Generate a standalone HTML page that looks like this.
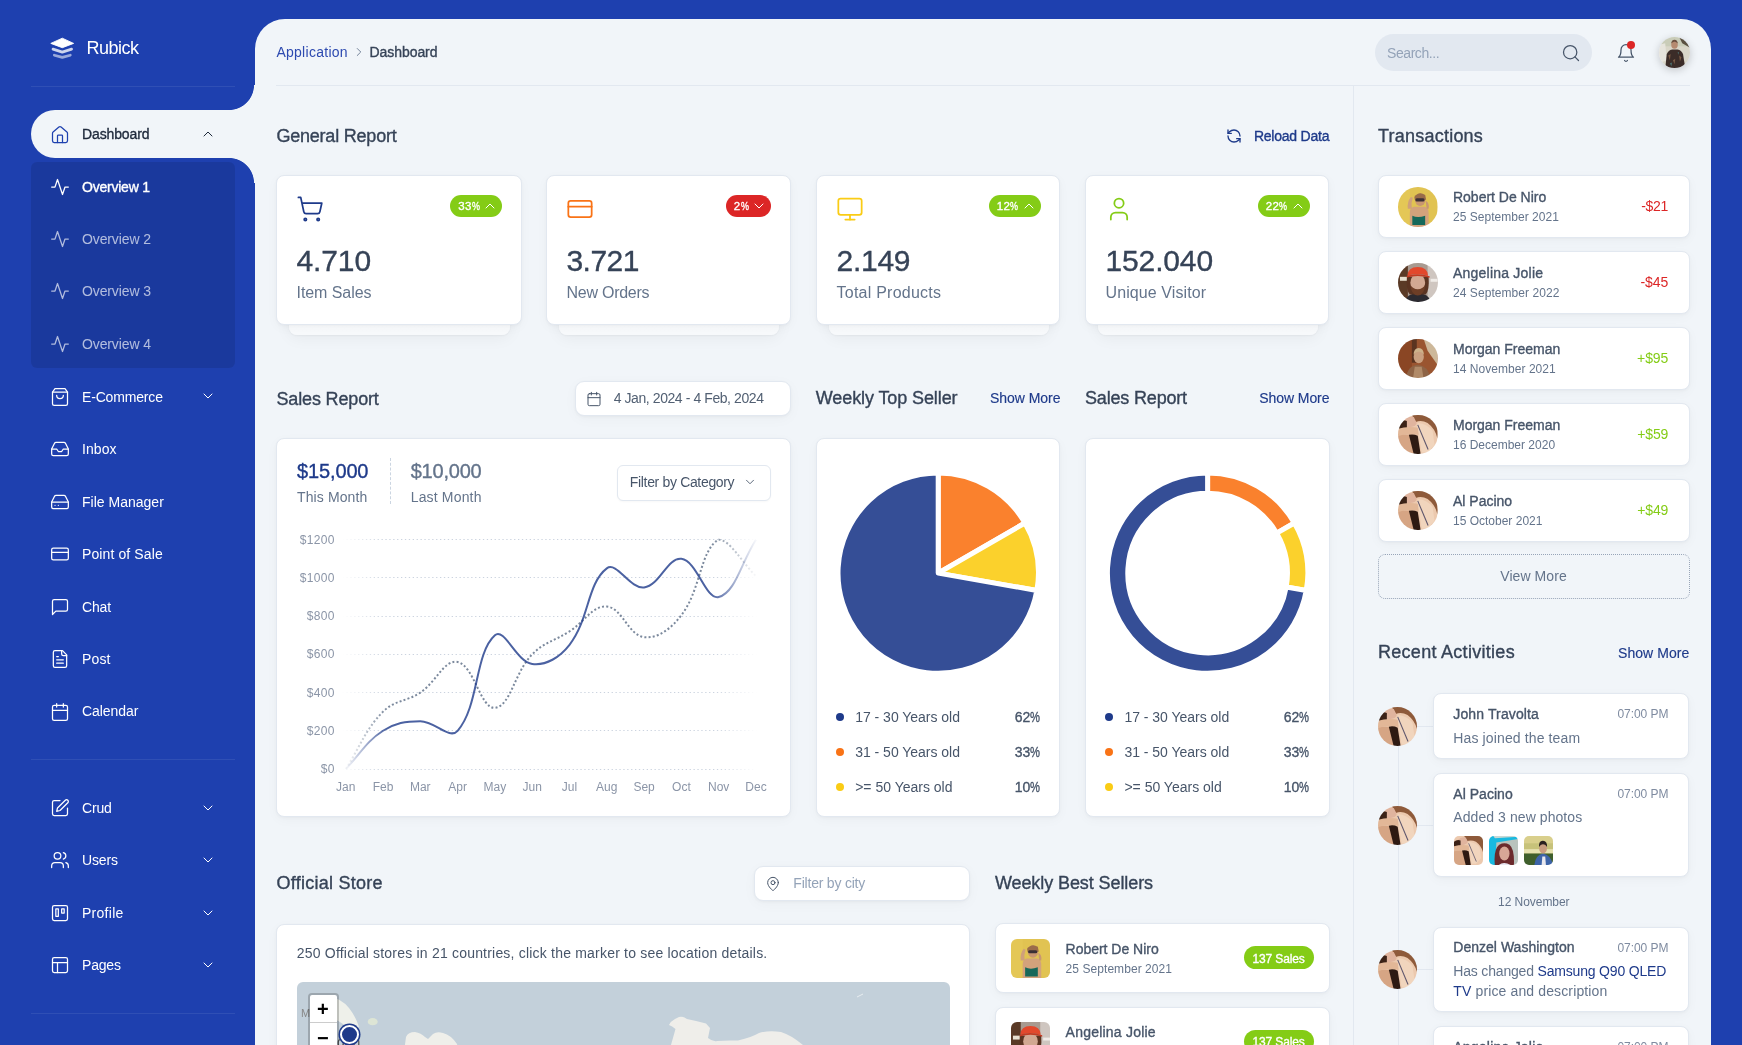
<!DOCTYPE html>
<html><head><meta charset="utf-8">
<style>
*{box-sizing:border-box;margin:0;padding:0}
html,body{width:1742px;height:1045px;overflow:hidden}
body{background:#1e40af;font-family:"Liberation Sans",sans-serif;position:relative;color:#364357}
.a{position:absolute}
.t{position:absolute;white-space:nowrap;line-height:1}
svg.i{position:absolute;fill:none;stroke:currentColor;stroke-linecap:round;stroke-linejoin:round;overflow:visible}
.m{-webkit-text-stroke:.35px currentColor}
.b{font-weight:bold}
.card{position:absolute;background:#fff;border:1px solid #e2e8f0;border-radius:8px;box-shadow:0 1px 3px rgba(15,23,42,.03),0 3px 12px rgba(15,23,42,.03)}
.av{position:absolute;border-radius:50%;overflow:hidden}
</style></head><body><div id="root" style="position:absolute;left:0;top:0;width:1742px;height:1045px;will-change:transform">

<svg class="a" style="left:50px;top:37px" width="25" height="23" viewBox="0 0 25 23">
<path d="M12.3 1.2 L23.6 6.4 L12.3 10.7 L0.8 6.4 Z" fill="#fff" stroke="#fff" stroke-width="0.9" stroke-linejoin="round"/>
<path d="M3 12.1 L12.3 15.1 L21.6 12.1" fill="none" stroke="rgba(255,255,255,.78)" stroke-width="2.7" stroke-linecap="round" stroke-linejoin="round"/>
<path d="M4.3 18.2 L12.3 20.4 L20.3 18.2" fill="none" stroke="rgba(255,255,255,.55)" stroke-width="2.7" stroke-linecap="round" stroke-linejoin="round"/>
</svg>
<div class="t" style="left:86.4px;top:39.4px;font-size:18px;color:#fff;;letter-spacing:-0.476px">Rubick</div>
<div class="a" style="left:255px;top:19px;width:1456px;height:1100px;background:#f1f5f9;border-radius:30px 30px 0 0"></div>
<div class="a" style="left:31px;top:110px;width:230px;height:48px;background:#f1f5f9;border-radius:24px 0 0 24px"></div>
<div class="a" style="left:229px;top:85px;width:26px;height:25px;background:radial-gradient(circle at 0 0,#1e40af 24.6px,#f1f5f9 25.4px)"></div>
<div class="a" style="left:229px;top:158px;width:26px;height:25px;background:radial-gradient(circle at 0 100%,#1e40af 24.6px,#f1f5f9 25.4px)"></div>
<div class="a" style="left:31px;top:86px;width:204px;height:1px;background:rgba(255,255,255,.08)"></div>
<svg class="i" style="left:50px;top:125px;color:#1e40af" width="20" height="20" viewBox="0 0 24 24" stroke-width="1.5"><path d="M15 21v-8a1 1 0 0 0-1-1h-4a1 1 0 0 0-1 1v8"/><path d="M3 10a2 2 0 0 1 .709-1.528l7-5.999a2 2 0 0 1 2.582 0l7 5.999A2 2 0 0 1 21 10v9a2 2 0 0 1-2 2H5a2 2 0 0 1-2-2z"/></svg>
<div class="t m" style="left:82.0px;top:126.7px;font-size:14px;color:#1e293b;;letter-spacing:-0.120px">Dashboard</div>
<svg class="i" style="left:200px;top:126px;color:#1e293b" width="16" height="16" viewBox="0 0 24 24" stroke-width="1.5"><path d="m18 15-6-6-6 6"/></svg>
<div class="a" style="left:31px;top:162px;width:204px;height:206px;background:rgba(0,0,0,.1);border-radius:6px"></div>
<svg class="i" style="left:50px;top:176.5px;color:#fff" width="20" height="20" viewBox="0 0 24 24" stroke-width="1.5"><polyline points="22 12 18 12 15 21 9 3 6 12 2 12"/></svg>
<div class="t m" style="left:82.0px;top:179.6px;font-size:14px;color:#fff;;letter-spacing:-0.222px">Overview 1</div>
<svg class="i" style="left:50px;top:228.9px;color:rgba(255,255,255,.66)" width="20" height="20" viewBox="0 0 24 24" stroke-width="1.5"><polyline points="22 12 18 12 15 21 9 3 6 12 2 12"/></svg>
<div class="t" style="left:82.0px;top:232.0px;font-size:14px;color:rgba(255,255,255,.66);;letter-spacing:-0.122px">Overview 2</div>
<svg class="i" style="left:50px;top:281.3px;color:rgba(255,255,255,.66)" width="20" height="20" viewBox="0 0 24 24" stroke-width="1.5"><polyline points="22 12 18 12 15 21 9 3 6 12 2 12"/></svg>
<div class="t" style="left:82.0px;top:284.4px;font-size:14px;color:rgba(255,255,255,.66);;letter-spacing:-0.122px">Overview 3</div>
<svg class="i" style="left:50px;top:333.7px;color:rgba(255,255,255,.66)" width="20" height="20" viewBox="0 0 24 24" stroke-width="1.5"><polyline points="22 12 18 12 15 21 9 3 6 12 2 12"/></svg>
<div class="t" style="left:82.0px;top:336.8px;font-size:14px;color:rgba(255,255,255,.66);;letter-spacing:-0.122px">Overview 4</div>
<svg class="i" style="left:50px;top:387.0px;color:#fff" width="20" height="20" viewBox="0 0 24 24" stroke-width="1.5"><path d="M6 2 3 6v14a2 2 0 0 0 2 2h14a2 2 0 0 0 2-2V6l-3-4Z"/><path d="M3 6h18"/><path d="M16 10a4 4 0 0 1-8 0"/></svg>
<div class="t" style="left:82.0px;top:389.5px;font-size:14px;color:#fff;;letter-spacing:-0.162px">E-Commerce</div>
<svg class="i" style="left:200px;top:388.4px;color:#fff" width="16" height="16" viewBox="0 0 24 24" stroke-width="1.5"><path d="m6 9 6 6 6-6"/></svg>
<svg class="i" style="left:50px;top:439.48px;color:#fff" width="20" height="20" viewBox="0 0 24 24" stroke-width="1.5"><polyline points="22 12 16 12 14 15 10 15 8 12 2 12"/><path d="M5.45 5.11 2 12v6a2 2 0 0 0 2 2h16a2 2 0 0 0 2-2v-6l-3.45-6.89A2 2 0 0 0 16.76 4H7.24a2 2 0 0 0-1.79 1.11z"/></svg>
<div class="t" style="left:82.0px;top:442.0px;font-size:14px;color:#fff;;letter-spacing:0.093px">Inbox</div>
<svg class="i" style="left:50px;top:491.96px;color:#fff" width="20" height="20" viewBox="0 0 24 24" stroke-width="1.5"><line x1="22" x2="2" y1="12" y2="12"/><path d="M5.45 5.11 2 12v6a2 2 0 0 0 2 2h16a2 2 0 0 0 2-2v-6l-3.45-6.89A2 2 0 0 0 16.76 4H7.24a2 2 0 0 0-1.79 1.11z"/><line x1="6" x2="6.01" y1="16" y2="16"/><line x1="10" x2="10.01" y1="16" y2="16"/></svg>
<div class="t" style="left:82.0px;top:494.5px;font-size:14px;color:#fff;;letter-spacing:0.010px">File Manager</div>
<svg class="i" style="left:50px;top:544.4399999999999px;color:#fff" width="20" height="20" viewBox="0 0 24 24" stroke-width="1.5"><rect width="20" height="14" x="2" y="5" rx="2"/><line x1="2" x2="22" y1="10" y2="10"/></svg>
<div class="t" style="left:82.0px;top:547.0px;font-size:14px;color:#fff;;letter-spacing:0.110px">Point of Sale</div>
<svg class="i" style="left:50px;top:596.92px;color:#fff" width="20" height="20" viewBox="0 0 24 24" stroke-width="1.5"><path d="M21 15a2 2 0 0 1-2 2H7l-4 4V5a2 2 0 0 1 2-2h14a2 2 0 0 1 2 2z"/></svg>
<div class="t" style="left:82.0px;top:599.5px;font-size:14px;color:#fff;;letter-spacing:-0.147px">Chat</div>
<svg class="i" style="left:50px;top:649.4px;color:#fff" width="20" height="20" viewBox="0 0 24 24" stroke-width="1.5"><path d="M15 2H6a2 2 0 0 0-2 2v16a2 2 0 0 0 2 2h12a2 2 0 0 0 2-2V7Z"/><path d="M14 2v4a2 2 0 0 0 2 2h4"/><path d="M10 9H8"/><path d="M16 13H8"/><path d="M16 17H8"/></svg>
<div class="t" style="left:82.0px;top:651.9px;font-size:14px;color:#fff;;letter-spacing:0.133px">Post</div>
<svg class="i" style="left:50px;top:701.88px;color:#fff" width="20" height="20" viewBox="0 0 24 24" stroke-width="1.5"><rect width="18" height="18" x="3" y="4" rx="2" ry="2"/><line x1="16" x2="16" y1="2" y2="6"/><line x1="8" x2="8" y1="2" y2="6"/><line x1="3" x2="21" y1="10" y2="10"/></svg>
<div class="t" style="left:82.0px;top:704.4px;font-size:14px;color:#fff;;letter-spacing:-0.063px">Calendar</div>
<div class="a" style="left:31px;top:759px;width:204px;height:1px;background:rgba(255,255,255,.08)"></div>
<svg class="i" style="left:50px;top:797.8px;color:#fff" width="20" height="20" viewBox="0 0 24 24" stroke-width="1.5"><path d="M12 3H5a2 2 0 0 0-2 2v14a2 2 0 0 0 2 2h14a2 2 0 0 0 2-2v-7"/><path d="M18.375 2.625a2.121 2.121 0 1 1 3 3L12 15l-4 1 1-4Z"/></svg>
<div class="t" style="left:82.0px;top:800.9px;font-size:14px;color:#fff;;letter-spacing:-0.193px">Crud</div>
<svg class="i" style="left:200px;top:799.8px;color:#fff" width="16" height="16" viewBox="0 0 24 24" stroke-width="1.5"><path d="m6 9 6 6 6-6"/></svg>
<svg class="i" style="left:50px;top:850.27px;color:#fff" width="20" height="20" viewBox="0 0 24 24" stroke-width="1.5"><path d="M16 21v-2a4 4 0 0 0-4-4H6a4 4 0 0 0-4 4v2"/><circle cx="9" cy="7" r="4"/><path d="M22 21v-2a4 4 0 0 0-3-3.87"/><path d="M16 3.13a4 4 0 0 1 0 7.75"/></svg>
<div class="t" style="left:82.0px;top:853.4px;font-size:14px;color:#fff;;letter-spacing:-0.160px">Users</div>
<svg class="i" style="left:200px;top:852.27px;color:#fff" width="16" height="16" viewBox="0 0 24 24" stroke-width="1.5"><path d="m6 9 6 6 6-6"/></svg>
<svg class="i" style="left:50px;top:902.74px;color:#fff" width="20" height="20" viewBox="0 0 24 24" stroke-width="1.5"><rect width="18" height="18" x="3" y="3" rx="2" ry="2"/><rect width="3" height="9" x="7" y="7"/><rect width="3" height="5" x="14" y="7"/></svg>
<div class="t" style="left:82.0px;top:905.9px;font-size:14px;color:#fff;;letter-spacing:0.268px">Profile</div>
<svg class="i" style="left:200px;top:904.74px;color:#fff" width="16" height="16" viewBox="0 0 24 24" stroke-width="1.5"><path d="m6 9 6 6 6-6"/></svg>
<svg class="i" style="left:50px;top:955.2099999999999px;color:#fff" width="20" height="20" viewBox="0 0 24 24" stroke-width="1.5"><rect width="18" height="18" x="3" y="3" rx="2"/><path d="M3 9h18"/><path d="M9 21V9"/></svg>
<div class="t" style="left:82.0px;top:958.4px;font-size:14px;color:#fff;;letter-spacing:-0.197px">Pages</div>
<svg class="i" style="left:200px;top:957.2099999999999px;color:#fff" width="16" height="16" viewBox="0 0 24 24" stroke-width="1.5"><path d="m6 9 6 6 6-6"/></svg>
<div class="a" style="left:31px;top:1013px;width:204px;height:1px;background:rgba(255,255,255,.08)"></div>
<div class="t" style="left:276.4px;top:45.3px;font-size:14px;color:#2d4ab0;;letter-spacing:0.274px">Application</div>
<svg class="i" style="left:351.5px;top:45px;color:#64748b" width="14" height="14" viewBox="0 0 24 24" stroke-width="1.5"><path d="m9 18 6-6-6-6"/></svg>
<div class="t m" style="left:369.4px;top:45.3px;font-size:14px;color:#364357;;letter-spacing:-0.045px">Dashboard</div>
<div class="a" style="left:276px;top:85px;width:1414px;height:1px;background:#e2e8f0"></div>
<div class="a" style="left:1353px;top:85px;width:1px;height:1000px;background:#e2e8f0"></div>
<div class="a" style="left:1375px;top:34px;width:217px;height:37px;background:#e2e8f0;border-radius:19px"></div>
<div class="t" style="left:1387.0px;top:45.5px;font-size:14px;color:#94a3b8;;letter-spacing:-0.425px">Search...</div>
<svg class="i" style="left:1560.7px;top:42.7px;color:#475569" width="20" height="20" viewBox="0 0 24 24" stroke-width="1.5"><circle cx="11" cy="11" r="8"/><path d="m21 21-4.3-4.3"/></svg>
<svg class="i" style="left:1616px;top:43px;color:#475569" width="20" height="20" viewBox="0 0 24 24" stroke-width="1.5"><path d="M6 8a6 6 0 0 1 12 0c0 7 3 9 3 9H3s3-2 3-9"/><path d="M10.3 21a1.94 1.94 0 0 0 3.4 0"/></svg>
<div class="a" style="left:1627.1px;top:40.9px;width:7.9px;height:7.9px;background:#dc2626;border-radius:50%"></div>
<div class="av" style="left:1658.5px;top:37px;width:31px;height:31px;box-shadow:0 2px 8px rgba(0,0,0,.2)"><svg width="100%" height="100%" viewBox="0 0 40 40" preserveAspectRatio="none" style="display:block;filter:blur(.45px)"><rect width="40" height="40" fill="#d9d6c8"/>
<rect x="0" y="0" width="40" height="12" fill="#c9ccb8"/>
<path d="M26 0 L40 0 L40 14 Q34 10 30 8Z" fill="#5a5040"/>
<path d="M0 10 L8 8 L10 30 L0 34Z" fill="#e6e4dc"/>
<path d="M8 41 L10 22 Q12 17 17 16 L24 16 Q29 17 31 22 L34 41Z" fill="#3b2c28"/>
<path d="M12 24 L15 22 L14 30Z M26 24 L29 26 L27 32Z M18 30 L21 28 L20 35Z" fill="#7a5a44"/>
<path d="M14 34 L17 33 L16 38Z M24 20 L26 19 L25 23Z" fill="#4a6a68"/>
<ellipse cx="20" cy="10" rx="4.2" ry="5.2" fill="#b58a70"/>
<path d="M15.8 8.5 Q16 3.5 20 3.5 Q24 3.5 24.2 8.5 Q22 6 20 6.2 Q18 6 15.8 8.5Z" fill="#6a5040"/></svg></div>
<div class="t m" style="left:276.4px;top:127.1px;font-size:18px;color:#364357;;letter-spacing:-0.210px">General Report</div>
<svg class="i" style="left:1226px;top:128px;color:#1e3a8a" width="16" height="16" viewBox="0 0 24 24" stroke-width="2"><path d="M21 12a9 9 0 0 0-9-9 9.75 9.75 0 0 0-6.74 2.74L3 8"/><path d="M3 3v5h5"/><path d="M3 12a9 9 0 0 0 9 9 9.75 9.75 0 0 0 6.74-2.74L21 16"/><path d="M16 16h5v5"/></svg>
<div class="t m" style="right:412.5px;top:129.3px;font-size:14px;color:#1e3a8a;text-align:right;;letter-spacing:-0.221px;margin-right:0.221px">Reload Data</div>
<div class="a" style="left:288.5px;top:187px;width:221.5px;height:148.2px;background:linear-gradient(#eceef2,#f7f9fb 45%,#f8fafc);border-radius:8px;box-shadow:0 3px 16px rgba(0,0,0,.05),0 1px 2px rgba(0,0,0,.04)"></div>
<div class="card" style="left:276px;top:175.2px;width:245.5px;height:149.6px;border-radius:8px"></div>
<svg class="i" style="left:295.5px;top:195px;color:#1e3a8a" width="28" height="28" viewBox="0 0 24 24" stroke-width="1.5"><circle cx="8" cy="21" r="1"/><circle cx="19" cy="21" r="1"/><path d="M2.05 2.05h2l2.66 12.42a2 2 0 0 0 2 1.58h9.78a2 2 0 0 0 1.95-1.57l1.65-7.43H5.12"/></svg>
<div class="a" style="left:450.0px;top:195.3px;width:52px;height:21.7px;background:#84cc16;border-radius:11px"></div>
<div class="t m" style="left:458.2px;top:201.0px;font-size:11.5px;color:#fff;letter-spacing:0.45px">33<span style="display:inline-block;width:8px;transform:scaleX(.78);transform-origin:0 0">%</span></div>
<svg class="i" style="left:482.0px;top:197.8px;color:#fff" width="16" height="16" viewBox="0 0 24 24" stroke-width="1.5"><path d="m18 15-6-6-6 6"/></svg>
<div class="t m" style="left:296.5px;top:245.6px;font-size:30px;color:#364357;;letter-spacing:-0.113px">4.710</div>
<div class="t" style="left:296.5px;top:285.3px;font-size:16px;color:#64748b;;letter-spacing:-0.067px">Item Sales</div>
<div class="a" style="left:558.5px;top:187px;width:220.5px;height:148.2px;background:linear-gradient(#eceef2,#f7f9fb 45%,#f8fafc);border-radius:8px;box-shadow:0 3px 16px rgba(0,0,0,.05),0 1px 2px rgba(0,0,0,.04)"></div>
<div class="card" style="left:546px;top:175.2px;width:244.5px;height:149.6px;border-radius:8px"></div>
<svg class="i" style="left:565.5px;top:195px;color:#f97316" width="28" height="28" viewBox="0 0 24 24" stroke-width="1.5"><rect width="20" height="14" x="2" y="5" rx="2"/><line x1="2" x2="22" y1="10" y2="10"/></svg>
<div class="a" style="left:725.5px;top:195.3px;width:45.5px;height:21.7px;background:#dc2626;border-radius:11px"></div>
<div class="t m" style="left:733.7px;top:201.0px;font-size:11.5px;color:#fff;letter-spacing:0.45px">2<span style="display:inline-block;width:8px;transform:scaleX(.78);transform-origin:0 0">%</span></div>
<svg class="i" style="left:751.0px;top:197.8px;color:#fff" width="16" height="16" viewBox="0 0 24 24" stroke-width="1.5"><path d="m6 9 6 6 6-6"/></svg>
<div class="t m" style="left:566.5px;top:245.6px;font-size:30px;color:#364357;;letter-spacing:-0.562px">3.721</div>
<div class="t" style="left:566.5px;top:285.3px;font-size:16px;color:#64748b;;letter-spacing:-0.251px">New Orders</div>
<div class="a" style="left:828.5px;top:187px;width:220px;height:148.2px;background:linear-gradient(#eceef2,#f7f9fb 45%,#f8fafc);border-radius:8px;box-shadow:0 3px 16px rgba(0,0,0,.05),0 1px 2px rgba(0,0,0,.04)"></div>
<div class="card" style="left:816px;top:175.2px;width:244px;height:149.6px;border-radius:8px"></div>
<svg class="i" style="left:835.5px;top:195px;color:#facc15" width="28" height="28" viewBox="0 0 24 24" stroke-width="1.5"><rect width="20" height="14" x="2" y="3" rx="2"/><line x1="8" x2="16" y1="21" y2="21"/><line x1="12" x2="12" y1="17" y2="21"/></svg>
<div class="a" style="left:988.5px;top:195.3px;width:52px;height:21.7px;background:#84cc16;border-radius:11px"></div>
<div class="t m" style="left:996.7px;top:201.0px;font-size:11.5px;color:#fff;letter-spacing:0.45px">12<span style="display:inline-block;width:8px;transform:scaleX(.78);transform-origin:0 0">%</span></div>
<svg class="i" style="left:1020.5px;top:197.8px;color:#fff" width="16" height="16" viewBox="0 0 24 24" stroke-width="1.5"><path d="m18 15-6-6-6 6"/></svg>
<div class="t m" style="left:836.5px;top:245.6px;font-size:30px;color:#364357;;letter-spacing:-0.262px">2.149</div>
<div class="t" style="left:836.5px;top:285.3px;font-size:16px;color:#64748b;;letter-spacing:0.242px">Total Products</div>
<div class="a" style="left:1097.5px;top:187px;width:220px;height:148.2px;background:linear-gradient(#eceef2,#f7f9fb 45%,#f8fafc);border-radius:8px;box-shadow:0 3px 16px rgba(0,0,0,.05),0 1px 2px rgba(0,0,0,.04)"></div>
<div class="card" style="left:1085px;top:175.2px;width:244px;height:149.6px;border-radius:8px"></div>
<svg class="i" style="left:1104.5px;top:195px;color:#84cc16" width="28" height="28" viewBox="0 0 24 24" stroke-width="1.5"><path d="M19 21v-2a4 4 0 0 0-4-4H9a4 4 0 0 0-4 4v2"/><circle cx="12" cy="7" r="4"/></svg>
<div class="a" style="left:1257.5px;top:195.3px;width:52px;height:21.7px;background:#84cc16;border-radius:11px"></div>
<div class="t m" style="left:1265.7px;top:201.0px;font-size:11.5px;color:#fff;letter-spacing:0.45px">22<span style="display:inline-block;width:8px;transform:scaleX(.78);transform-origin:0 0">%</span></div>
<svg class="i" style="left:1289.5px;top:197.8px;color:#fff" width="16" height="16" viewBox="0 0 24 24" stroke-width="1.5"><path d="m18 15-6-6-6 6"/></svg>
<div class="t m" style="left:1105.5px;top:245.6px;font-size:30px;color:#364357;;letter-spacing:-0.142px">152.040</div>
<div class="t" style="left:1105.5px;top:285.3px;font-size:16px;color:#64748b;;letter-spacing:0.094px">Unique Visitor</div>
<div class="t m" style="left:276.5px;top:389.8px;font-size:18px;color:#364357;;letter-spacing:-0.158px">Sales Report</div>
<div class="a" style="left:575px;top:380.6px;width:215.5px;height:35.3px;background:#fff;border:1px solid #e2e8f0;border-radius:9px;box-shadow:0 1px 3px rgba(0,0,0,.04),0 3px 14px rgba(0,0,0,.03)"></div>
<svg class="i" style="left:586px;top:390.5px;color:#475569" width="16" height="16" viewBox="0 0 24 24" stroke-width="1.5"><rect width="18" height="18" x="3" y="4" rx="2" ry="2"/><line x1="16" x2="16" y1="2" y2="6"/><line x1="8" x2="8" y1="2" y2="6"/><line x1="3" x2="21" y1="10" y2="10"/></svg>
<div class="t" style="left:613.7px;top:391.3px;font-size:14px;color:#526073;;letter-spacing:-0.420px">4 Jan, 2024 - 4 Feb, 2024</div>
<div class="card" style="left:276px;top:438px;width:515px;height:378.5px"></div>
<div class="t m" style="left:297.0px;top:461.1px;font-size:20px;color:#1e3a8a;;letter-spacing:-0.133px">$15,000</div>
<div class="t" style="left:297.0px;top:489.6px;font-size:14px;color:#64748b;;letter-spacing:0.119px">This Month</div>
<div class="a" style="left:390px;top:458px;width:0px;height:46px;border-left:1px dashed #cbd5e1"></div>
<div class="t m" style="left:410.7px;top:461.1px;font-size:20px;color:#64748b;;letter-spacing:-0.217px">$10,000</div>
<div class="t" style="left:410.7px;top:489.6px;font-size:14px;color:#64748b;;letter-spacing:0.163px">Last Month</div>
<div class="a" style="left:617px;top:464.5px;width:154px;height:36px;border:1px solid #e2e8f0;border-radius:6px;background:#fff;box-shadow:0 1px 2px rgba(0,0,0,.03)"></div>
<div class="t" style="left:629.8px;top:475.1px;font-size:14px;color:#475569;;letter-spacing:-0.333px">Filter by Category</div>
<svg class="i" style="left:743px;top:475px;color:#475569" width="14" height="14" viewBox="0 0 24 24" stroke-width="1.5"><path d="m6 9 6 6 6-6"/></svg>
<div class="t" style="right:1407.2px;top:763.0px;font-size:12px;color:#8b95a7;text-align:right;letter-spacing:0.35px">$0</div>
<div class="t" style="right:1407.2px;top:724.8px;font-size:12px;color:#8b95a7;text-align:right;letter-spacing:0.35px">$200</div>
<div class="t" style="right:1407.2px;top:686.6px;font-size:12px;color:#8b95a7;text-align:right;letter-spacing:0.35px">$400</div>
<div class="t" style="right:1407.2px;top:648.4px;font-size:12px;color:#8b95a7;text-align:right;letter-spacing:0.35px">$600</div>
<div class="t" style="right:1407.2px;top:610.2px;font-size:12px;color:#8b95a7;text-align:right;letter-spacing:0.35px">$800</div>
<div class="t" style="right:1407.2px;top:572.0px;font-size:12px;color:#8b95a7;text-align:right;letter-spacing:0.35px">$1000</div>
<div class="t" style="right:1407.2px;top:533.7px;font-size:12px;color:#8b95a7;text-align:right;letter-spacing:0.35px">$1200</div>
<div class="t" style="left:45.7px;width:600px;top:781.1px;font-size:12px;color:#8b95a7;text-align:center;">Jan</div>
<div class="t" style="left:83.0px;width:600px;top:781.1px;font-size:12px;color:#8b95a7;text-align:center;">Feb</div>
<div class="t" style="left:120.3px;width:600px;top:781.1px;font-size:12px;color:#8b95a7;text-align:center;">Mar</div>
<div class="t" style="left:157.6px;width:600px;top:781.1px;font-size:12px;color:#8b95a7;text-align:center;">Apr</div>
<div class="t" style="left:194.9px;width:600px;top:781.1px;font-size:12px;color:#8b95a7;text-align:center;">May</div>
<div class="t" style="left:232.2px;width:600px;top:781.1px;font-size:12px;color:#8b95a7;text-align:center;">Jun</div>
<div class="t" style="left:269.5px;width:600px;top:781.1px;font-size:12px;color:#8b95a7;text-align:center;">Jul</div>
<div class="t" style="left:306.8px;width:600px;top:781.1px;font-size:12px;color:#8b95a7;text-align:center;">Aug</div>
<div class="t" style="left:344.1px;width:600px;top:781.1px;font-size:12px;color:#8b95a7;text-align:center;">Sep</div>
<div class="t" style="left:381.4px;width:600px;top:781.1px;font-size:12px;color:#8b95a7;text-align:center;">Oct</div>
<div class="t" style="left:418.7px;width:600px;top:781.1px;font-size:12px;color:#8b95a7;text-align:center;">Nov</div>
<div class="t" style="left:456.0px;width:600px;top:781.1px;font-size:12px;color:#8b95a7;text-align:center;">Dec</div>
<svg class="a" style="left:0;top:0" width="1742" height="1045" viewBox="0 0 1742 1045">
<defs>
<linearGradient id="g1" gradientUnits="userSpaceOnUse" x1="345.7" x2="756" y1="0" y2="0">
<stop offset="0" stop-color="#1e3a8a" stop-opacity="0.03"/><stop offset="0.1" stop-color="#1e3a8a" stop-opacity="0.8"/>
<stop offset="0.89" stop-color="#1e3a8a" stop-opacity="0.8"/><stop offset="1" stop-color="#1e3a8a" stop-opacity="0.04"/></linearGradient>
<linearGradient id="g2" gradientUnits="userSpaceOnUse" x1="345.7" x2="756" y1="0" y2="0">
<stop offset="0" stop-color="#64748b" stop-opacity="0.04"/><stop offset="0.1" stop-color="#64748b" stop-opacity="0.85"/>
<stop offset="0.89" stop-color="#64748b" stop-opacity="0.85"/><stop offset="1" stop-color="#64748b" stop-opacity="0.04"/></linearGradient>
<linearGradient id="g3" gradientUnits="userSpaceOnUse" x1="342" x2="757" y1="0" y2="0">
<stop offset="0" stop-color="#cbd3df" stop-opacity="0"/><stop offset="0.1" stop-color="#cbd3df" stop-opacity="1"/>
<stop offset="0.9" stop-color="#cbd3df" stop-opacity="1"/><stop offset="1" stop-color="#cbd3df" stop-opacity="0"/></linearGradient>
</defs>
<g stroke="url(#g3)" stroke-width="1" stroke-dasharray="1.3 2.6" fill="none"><line x1="342.5" x2="757.5" y1="769.5" y2="769.5"/><line x1="342.5" x2="757.5" y1="730.5" y2="730.5"/><line x1="342.5" x2="757.5" y1="692.5" y2="692.5"/><line x1="342.5" x2="757.5" y1="654.5" y2="654.5"/><line x1="342.5" x2="757.5" y1="616.5" y2="616.5"/><line x1="342.5" x2="757.5" y1="577.5" y2="577.5"/><line x1="342.5" x2="757.5" y1="539.5" y2="539.5"/></g>
<path d="M345.70 769.00C360.62 746.07 364.50 730.63 383.00 711.67C394.34 700.06 406.43 701.81 420.30 692.57C436.27 681.93 444.19 659.25 457.60 661.99C474.03 665.36 480.71 709.31 494.90 707.85C510.55 706.25 514.35 672.64 532.20 654.35C544.19 642.07 554.75 640.86 569.50 631.42C584.59 621.75 592.43 605.47 606.80 606.58C622.27 607.77 628.38 635.34 644.10 637.15C658.22 638.78 671.27 628.42 681.40 615.18C701.11 589.43 700.26 549.38 718.70 539.70C730.10 539.70 741.08 561.48 756.00 576.01" fill="none" stroke="url(#g2)" stroke-width="2" stroke-dasharray="2 2.2"/>
<path d="M345.70 769.00C360.62 753.71 365.66 741.89 383.00 730.78C395.50 722.78 405.38 721.23 420.30 721.23C435.22 721.23 449.46 740.17 457.60 730.78C479.30 705.78 474.44 653.58 494.90 635.24C504.28 626.83 516.42 661.88 532.20 663.90C546.26 665.70 559.65 657.41 569.50 644.80C589.49 619.19 586.81 583.72 606.80 568.36C616.65 560.79 630.04 589.27 644.10 587.47C659.88 585.45 667.42 557.02 681.40 558.81C697.26 560.84 705.62 600.38 718.70 597.03C735.46 592.73 741.08 562.63 756.00 539.70" fill="none" stroke="url(#g1)" stroke-width="2"/>
</svg>
<div class="t m" style="left:815.8px;top:389.3px;font-size:18px;color:#364357;;letter-spacing:-0.104px">Weekly Top Seller</div>
<div class="t" style="right:681.6px;top:390.7px;font-size:14px;color:#1e3a8a;text-align:right;-webkit-text-stroke:.15px #1e3a8a;letter-spacing:-0.055px;margin-right:0.055px">Show More</div>
<div class="t m" style="left:1085.0px;top:389.3px;font-size:18px;color:#364357;;letter-spacing:-0.176px">Sales Report</div>
<div class="t" style="right:412.5px;top:390.7px;font-size:14px;color:#1e3a8a;text-align:right;-webkit-text-stroke:.15px #1e3a8a;letter-spacing:-0.055px;margin-right:0.055px">Show More</div>
<div class="card" style="left:816px;top:438px;width:244px;height:378.5px"></div>
<div class="card" style="left:1085px;top:438px;width:245px;height:378.5px"></div>
<svg class="a" style="left:0;top:0" width="1742" height="1045"><path d="M938.20 573.10L938.20 472.90A100.2 100.2 0 0 1 1024.98 523.00Z" fill="#fa812d" stroke="#fff" stroke-width="5" stroke-linejoin="round"/><path d="M938.20 573.10L1024.98 523.00A100.2 100.2 0 0 1 1036.88 590.50Z" fill="#fbd12c" stroke="#fff" stroke-width="5" stroke-linejoin="round"/><path d="M938.20 573.10L1036.88 590.50A100.2 100.2 0 1 1 938.20 472.90Z" fill="#354e96" stroke="#fff" stroke-width="5" stroke-linejoin="round"/><path d="M1207.60 472.90A100.2 100.2 0 0 1 1294.38 523.00L1276.71 533.20A79.8 79.8 0 0 0 1207.60 493.30Z" fill="#fa812d" stroke="#fff" stroke-width="5" stroke-linejoin="round"/><path d="M1294.38 523.00A100.2 100.2 0 0 1 1306.28 590.50L1286.19 586.96A79.8 79.8 0 0 0 1276.71 533.20Z" fill="#fbd12c" stroke="#fff" stroke-width="5" stroke-linejoin="round"/><path d="M1306.28 590.50A100.2 100.2 0 1 1 1207.60 472.90L1207.60 493.30A79.8 79.8 0 1 0 1286.19 586.96Z" fill="#354e96" stroke="#fff" stroke-width="5" stroke-linejoin="round"/></svg>
<div class="a" style="left:835.6px;top:712.7px;width:8px;height:8px;background:#1e3a8a;border-radius:50%"></div>
<div class="t" style="left:855.2px;top:709.8px;font-size:14px;color:#475569;;letter-spacing:-0.017px">17 - 30 Years old</div>
<div class="t m" style="right:701.8px;top:709.8px;font-size:14px;color:#475569;text-align:right;">62<span style="display:inline-block;width:10px;transform:scaleX(.8);transform-origin:0 0">%</span></div>
<div class="a" style="left:835.6px;top:747.8000000000001px;width:8px;height:8px;background:#f97316;border-radius:50%"></div>
<div class="t" style="left:855.2px;top:744.9px;font-size:14px;color:#475569;;letter-spacing:-0.017px">31 - 50 Years old</div>
<div class="t m" style="right:701.8px;top:744.9px;font-size:14px;color:#475569;text-align:right;">33<span style="display:inline-block;width:10px;transform:scaleX(.8);transform-origin:0 0">%</span></div>
<div class="a" style="left:835.6px;top:782.9000000000001px;width:8px;height:8px;background:#facc15;border-radius:50%"></div>
<div class="t" style="left:855.2px;top:780.0px;font-size:14px;color:#475569;">&gt;= 50 Years old</div>
<div class="t m" style="right:701.8px;top:780.0px;font-size:14px;color:#475569;text-align:right;">10<span style="display:inline-block;width:10px;transform:scaleX(.8);transform-origin:0 0">%</span></div>
<div class="a" style="left:1104.8px;top:712.7px;width:8px;height:8px;background:#1e3a8a;border-radius:50%"></div>
<div class="t" style="left:1124.4px;top:709.8px;font-size:14px;color:#475569;;letter-spacing:-0.017px">17 - 30 Years old</div>
<div class="t m" style="right:432.6px;top:709.8px;font-size:14px;color:#475569;text-align:right;">62<span style="display:inline-block;width:10px;transform:scaleX(.8);transform-origin:0 0">%</span></div>
<div class="a" style="left:1104.8px;top:747.8000000000001px;width:8px;height:8px;background:#f97316;border-radius:50%"></div>
<div class="t" style="left:1124.4px;top:744.9px;font-size:14px;color:#475569;;letter-spacing:-0.017px">31 - 50 Years old</div>
<div class="t m" style="right:432.6px;top:744.9px;font-size:14px;color:#475569;text-align:right;">33<span style="display:inline-block;width:10px;transform:scaleX(.8);transform-origin:0 0">%</span></div>
<div class="a" style="left:1104.8px;top:782.9000000000001px;width:8px;height:8px;background:#facc15;border-radius:50%"></div>
<div class="t" style="left:1124.4px;top:780.0px;font-size:14px;color:#475569;">&gt;= 50 Years old</div>
<div class="t m" style="right:432.6px;top:780.0px;font-size:14px;color:#475569;text-align:right;">10<span style="display:inline-block;width:10px;transform:scaleX(.8);transform-origin:0 0">%</span></div>
<div class="t m" style="left:276.6px;top:874.4px;font-size:18px;color:#364357;;letter-spacing:0.247px">Official Store</div>
<div class="a" style="left:754px;top:865.8px;width:216px;height:35.5px;background:#fff;border:1px solid #e2e8f0;border-radius:9px;box-shadow:0 1px 3px rgba(0,0,0,.04),0 3px 14px rgba(0,0,0,.03)"></div>
<svg class="i" style="left:765px;top:875.5px;color:#475569" width="16" height="16" viewBox="0 0 24 24" stroke-width="1.5"><path d="M20 10c0 6-8 12-8 12s-8-6-8-12a8 8 0 0 1 16 0Z"/><circle cx="12" cy="10" r="3"/></svg>
<div class="t" style="left:793.3px;top:876.1px;font-size:14px;color:#94a3b8;;letter-spacing:-0.207px">Filter by city</div>
<div class="card" style="left:276px;top:923.5px;width:694px;height:200px"></div>
<div class="t" style="left:296.8px;top:945.9px;font-size:14px;color:#475569;;letter-spacing:0.201px">250 Official stores in 21 countries, click the marker to see location details.</div>
<div class="a" style="left:297px;top:982px;width:653px;height:120px;background:#c3d0da;border-radius:6px;overflow:hidden">
<svg class="a" style="left:0;top:0" width="653" height="120">
<path d="M30 14 Q44 16 52 26 Q59 35 62 45 Q56 47.5 49 44 Q41 38 32 35 Z" fill="#eef0ea"/>
<ellipse cx="75.7" cy="39.7" rx="5" ry="3.6" fill="#dde5d5"/>
<path d="M107 70 L109 55 Q111 50 118 50 Q124 51 128 55 L131 57 L136 52 Q140 49 146 51 Q154 53 160 62 L162 70 Z" fill="#efefea"/>
<path d="M372 70 L378.5 47 Q375 44 372 43 Q374 39 378 37 L382 35 Q386 34 390 37 Q400 39 409 41.6 L413 46 L411 56 Q416 60 420 59 Q430 58 441 58.6 Q455 55 462 51 Q472 48 484 50 Q494 53 506 63 L510 70 Z" fill="#efeeea"/>
<path d="M560 15 L566 12" stroke="#e8edf0" stroke-width="1"/>
</svg>
<div class="t" style="left:4px;top:26px;font-size:11px;color:#888">M</div>
<div class="t" style="left:40px;top:53px;font-size:14px;color:#555">gan</div>
</div>
<div class="a" style="left:307.5px;top:992.5px;width:31px;height:60px;background:#fff;border:2px solid rgba(0,0,0,.2);border-radius:4px;background-clip:padding-box"></div>
<div class="a" style="left:309.5px;top:1022px;width:27px;height:1px;background:#ccc"></div>
<div class="t" style="left:314.9px;top:999.1px;font-size:20px;color:#000;font-weight:bold;width:16px;text-align:center">+</div>
<div class="t" style="left:314.9px;top:1028.1px;font-size:20px;color:#000;font-weight:bold;width:16px;text-align:center">&#8722;</div>
<div class="a" style="left:339.5px;top:1024.5px;width:19px;height:19px;background:#1e3a8a;border-radius:50%;border:2.5px solid #fff;box-shadow:0 0 0 1.5px #1e3a8a"></div>
<div class="t m" style="left:994.9px;top:874.4px;font-size:18px;color:#364357;;letter-spacing:-0.086px">Weekly Best Sellers</div>
<div class="card" style="left:995px;top:923.0px;width:334.5px;height:69.5px"></div>
<div class="a" style="left:1011px;top:938.8px;width:39px;height:39px;border-radius:6px;overflow:hidden"><svg width="100%" height="100%" viewBox="0 0 40 40" preserveAspectRatio="none" style="display:block;filter:blur(.45px)"><rect width="40" height="40" fill="#e1c352"/>
<rect x="0" y="0" width="12" height="40" fill="#e6c95a" opacity=".6"/>
<path d="M12 41 L12 26 Q12 21 16 20 L27 20 Q31 21 31 26 L31 41Z" fill="#d2a27c"/>
<path d="M10 22 Q9 15 13 10 L15 11 Q13 16 14 22Z" fill="#cfa07a"/>
<path d="M28 14 Q32 16 31 22 L29 22Z" fill="#c89672"/>
<ellipse cx="22.5" cy="13" rx="5.3" ry="6.3" fill="#c99670"/>
<path d="M16.5 10 Q21 4 27.5 8 L28.5 13 L17 13Z" fill="#9a6c4a"/>
<rect x="17.5" y="11.5" width="9.5" height="3.2" rx="1.6" fill="#3b3035"/>
<path d="M14.5 29 Q20 32 27.5 29 L27.5 38.5 L14.5 38.5Z" fill="#16685a"/></svg></div>
<div class="t m" style="left:1065.6px;top:941.9px;font-size:14px;color:#475569;;letter-spacing:-0.022px">Robert De Niro</div>
<div class="t" style="left:1065.6px;top:962.9px;font-size:12px;color:#64748b;;letter-spacing:0.061px">25 September 2021</div>
<div class="a" style="left:1243.7px;top:946.3px;width:70px;height:23px;background:#84cc16;border-radius:12px"></div>
<div class="t m" style="left:1252.4px;top:952.6px;font-size:12px;color:#fff;;letter-spacing:-0.125px">137 Sales</div>
<div class="card" style="left:995px;top:1006.5px;width:334.5px;height:69.5px"></div>
<div class="a" style="left:1011px;top:1022.3px;width:39px;height:39px;border-radius:6px;overflow:hidden"><svg width="100%" height="100%" viewBox="0 0 40 40" preserveAspectRatio="none" style="display:block;filter:blur(.45px)"><rect width="40" height="40" fill="#a89a90"/>
<rect x="0" y="0" width="10" height="40" fill="#5a3a26"/>
<rect x="2" y="14" width="8" height="4" fill="#e8e0d0"/>
<rect x="30" y="0" width="10" height="40" fill="#cfc6c0"/>
<rect x="33" y="16" width="7" height="3" fill="#f0ece8"/>
<path d="M6 41 Q8 31 20 30 Q32 31 34 41Z" fill="#2c2a30"/>
<path d="M9 14 Q8 28 12 32 L28 32 Q32 28 31 14Z" fill="#5a3422"/>
<ellipse cx="20" cy="20" rx="7.5" ry="9" fill="#d2a892"/>
<path d="M12.5 22 Q13 32 20 33 Q27 32 27.5 22 Q25 26.5 20 26.5 Q15 26.5 12.5 22Z" fill="#6e3e26"/>
<path d="M9.5 13 Q10 4 20 4 Q30 4 30.5 13 Q20 10 9.5 13Z" fill="#e2482c"/>
<path d="M9 13 Q20 9.5 32 13.5 L32 15 Q20 11.5 9 14.8Z" fill="#c23a22"/></svg></div>
<div class="t m" style="left:1065.6px;top:1025.4px;font-size:14px;color:#475569;;letter-spacing:0.219px">Angelina Jolie</div>
<div class="t" style="left:1065.6px;top:1046.4px;font-size:12px;color:#64748b;;letter-spacing:0.061px">24 September 2022</div>
<div class="a" style="left:1243.7px;top:1029.8px;width:70px;height:23px;background:#84cc16;border-radius:12px"></div>
<div class="t m" style="left:1252.4px;top:1036.1px;font-size:12px;color:#fff;;letter-spacing:-0.125px">137 Sales</div>
<div class="t m" style="left:1378.0px;top:127.2px;font-size:18px;color:#364357;;letter-spacing:0.225px">Transactions</div>
<div class="card" style="left:1378px;top:175.3px;width:311.5px;height:63.2px;border-radius:8px"></div>
<div class="av" style="left:1398.3px;top:187.0px;width:39.5px;height:39.5px"><svg width="100%" height="100%" viewBox="0 0 40 40" preserveAspectRatio="none" style="display:block;filter:blur(.45px)"><rect width="40" height="40" fill="#e1c352"/>
<rect x="0" y="0" width="12" height="40" fill="#e6c95a" opacity=".6"/>
<path d="M12 41 L12 26 Q12 21 16 20 L27 20 Q31 21 31 26 L31 41Z" fill="#d2a27c"/>
<path d="M10 22 Q9 15 13 10 L15 11 Q13 16 14 22Z" fill="#cfa07a"/>
<path d="M28 14 Q32 16 31 22 L29 22Z" fill="#c89672"/>
<ellipse cx="22.5" cy="13" rx="5.3" ry="6.3" fill="#c99670"/>
<path d="M16.5 10 Q21 4 27.5 8 L28.5 13 L17 13Z" fill="#9a6c4a"/>
<rect x="17.5" y="11.5" width="9.5" height="3.2" rx="1.6" fill="#3b3035"/>
<path d="M14.5 29 Q20 32 27.5 29 L27.5 38.5 L14.5 38.5Z" fill="#16685a"/></svg></div>
<div class="t m" style="left:1453.0px;top:190.4px;font-size:14px;color:#475569;;letter-spacing:-0.014px">Robert De Niro</div>
<div class="t" style="left:1453.0px;top:211.1px;font-size:12px;color:#64748b;;letter-spacing:0.030px">25 September 2021</div>
<div class="t" style="right:73.7px;top:199.4px;font-size:14px;color:#dc2626;text-align:right;;letter-spacing:-0.300px;margin-right:0.300px">-$21</div>
<div class="card" style="left:1378px;top:251.2px;width:311.5px;height:63.2px;border-radius:8px"></div>
<div class="av" style="left:1398.3px;top:262.9px;width:39.5px;height:39.5px"><svg width="100%" height="100%" viewBox="0 0 40 40" preserveAspectRatio="none" style="display:block;filter:blur(.45px)"><rect width="40" height="40" fill="#a89a90"/>
<rect x="0" y="0" width="10" height="40" fill="#5a3a26"/>
<rect x="2" y="14" width="8" height="4" fill="#e8e0d0"/>
<rect x="30" y="0" width="10" height="40" fill="#cfc6c0"/>
<rect x="33" y="16" width="7" height="3" fill="#f0ece8"/>
<path d="M6 41 Q8 31 20 30 Q32 31 34 41Z" fill="#2c2a30"/>
<path d="M9 14 Q8 28 12 32 L28 32 Q32 28 31 14Z" fill="#5a3422"/>
<ellipse cx="20" cy="20" rx="7.5" ry="9" fill="#d2a892"/>
<path d="M12.5 22 Q13 32 20 33 Q27 32 27.5 22 Q25 26.5 20 26.5 Q15 26.5 12.5 22Z" fill="#6e3e26"/>
<path d="M9.5 13 Q10 4 20 4 Q30 4 30.5 13 Q20 10 9.5 13Z" fill="#e2482c"/>
<path d="M9 13 Q20 9.5 32 13.5 L32 15 Q20 11.5 9 14.8Z" fill="#c23a22"/></svg></div>
<div class="t m" style="left:1453.0px;top:266.4px;font-size:14px;color:#475569;;letter-spacing:0.219px">Angelina Jolie</div>
<div class="t" style="left:1453.0px;top:287.1px;font-size:12px;color:#64748b;;letter-spacing:0.061px">24 September 2022</div>
<div class="t" style="right:73.7px;top:275.4px;font-size:14px;color:#dc2626;text-align:right;;letter-spacing:-0.067px;margin-right:0.067px">-$45</div>
<div class="card" style="left:1378px;top:327.2px;width:311.5px;height:63.2px;border-radius:8px"></div>
<div class="av" style="left:1398.3px;top:338.9px;width:39.5px;height:39.5px"><svg width="100%" height="100%" viewBox="0 0 40 40" preserveAspectRatio="none" style="display:block;filter:blur(.45px)"><rect width="40" height="40" fill="#9a5530"/>
<rect x="0" y="0" width="14" height="40" fill="#8a4624"/>
<path d="M26 0 L40 0 L40 26 Q34 18 30 12Z" fill="#cdb89a"/>
<rect x="14" y="0" width="5" height="24" fill="#5a3420"/>
<path d="M8 41 Q9 27 20 26 Q31 27 33 41Z" fill="#8e6446"/>
<path d="M15 41 L17 28 L24 28 L26 41Z" fill="#b08a68"/>
<ellipse cx="21" cy="18" rx="5.2" ry="6.5" fill="#c9a080"/>
<path d="M15.8 16 Q16 9 21 9 Q26 9 26.2 16 Q24 12.5 21 13 Q18 12.5 15.8 16Z" fill="#cdb28a"/></svg></div>
<div class="t m" style="left:1453.0px;top:342.3px;font-size:14px;color:#475569;;letter-spacing:-0.014px">Morgan Freeman</div>
<div class="t" style="left:1453.0px;top:363.0px;font-size:12px;color:#64748b;;letter-spacing:0.043px">14 November 2021</div>
<div class="t" style="right:73.7px;top:351.3px;font-size:14px;color:#84cc16;text-align:right;;letter-spacing:-0.090px;margin-right:0.090px">+$95</div>
<div class="card" style="left:1378px;top:403.2px;width:311.5px;height:63.2px;border-radius:8px"></div>
<div class="av" style="left:1398.3px;top:414.9px;width:39.5px;height:39.5px"><svg width="100%" height="100%" viewBox="0 0 40 40" preserveAspectRatio="none" style="display:block;filter:blur(.45px)"><rect width="40" height="40" fill="#ecc9ae"/>
<path d="M14 0 L40 0 L40 24 Q38 14 30 8 Q24 5 18 7Z" fill="#8e5a3a"/>
<path d="M4 6 Q10 1 16 2 L19 8 Q18 11 14 12 L4 14Z" fill="#e0b49e"/>
<path d="M0 8 Q4 4 9 6 L9 14 L0 17Z" fill="#3b2217"/>
<path d="M20 8 Q30 9 35 16 L37 30 L30 38 L24 38 Q22 24 19 12Z" fill="#f1d5bd"/>
<path d="M0 14 Q10 11 20 13 L21 20 Q10 19 0 21Z" fill="#e2b797"/>
<path d="M0 21 Q8 19 14 21 L16 40 L0 40Z" fill="#d6a584"/>
<path d="M11 20 Q16 19 20 21 L23 40 L16 40Z" fill="#2e1a12"/>
<path d="M20 10 L30.5 35" stroke="#5e566c" stroke-width="1.1"/></svg></div>
<div class="t m" style="left:1453.0px;top:418.3px;font-size:14px;color:#475569;;letter-spacing:-0.014px">Morgan Freeman</div>
<div class="t" style="left:1453.0px;top:439.0px;font-size:12px;color:#64748b;">16 December 2020</div>
<div class="t" style="right:73.7px;top:427.3px;font-size:14px;color:#84cc16;text-align:right;;letter-spacing:-0.157px;margin-right:0.157px">+$59</div>
<div class="card" style="left:1378px;top:479.1px;width:311.5px;height:63.2px;border-radius:8px"></div>
<div class="av" style="left:1398.3px;top:490.8px;width:39.5px;height:39.5px"><svg width="100%" height="100%" viewBox="0 0 40 40" preserveAspectRatio="none" style="display:block;filter:blur(.45px)"><rect width="40" height="40" fill="#ecc9ae"/>
<path d="M14 0 L40 0 L40 24 Q38 14 30 8 Q24 5 18 7Z" fill="#8e5a3a"/>
<path d="M4 6 Q10 1 16 2 L19 8 Q18 11 14 12 L4 14Z" fill="#e0b49e"/>
<path d="M0 8 Q4 4 9 6 L9 14 L0 17Z" fill="#3b2217"/>
<path d="M20 8 Q30 9 35 16 L37 30 L30 38 L24 38 Q22 24 19 12Z" fill="#f1d5bd"/>
<path d="M0 14 Q10 11 20 13 L21 20 Q10 19 0 21Z" fill="#e2b797"/>
<path d="M0 21 Q8 19 14 21 L16 40 L0 40Z" fill="#d6a584"/>
<path d="M11 20 Q16 19 20 21 L23 40 L16 40Z" fill="#2e1a12"/>
<path d="M20 10 L30.5 35" stroke="#5e566c" stroke-width="1.1"/></svg></div>
<div class="t m" style="left:1453.0px;top:494.2px;font-size:14px;color:#475569;">Al Pacino</div>
<div class="t" style="left:1453.0px;top:514.9px;font-size:12px;color:#64748b;">15 October 2021</div>
<div class="t" style="right:73.7px;top:503.2px;font-size:14px;color:#84cc16;text-align:right;;letter-spacing:-0.157px;margin-right:0.157px">+$49</div>
<div class="a" style="left:1378px;top:554px;width:312px;height:44.7px;border:1px dotted #98a5b8;border-radius:7px"></div>
<div class="t" style="left:1233.5px;width:600px;top:569.1px;font-size:14px;color:#64748b;text-align:center;;letter-spacing:0.079px;text-indent:0.079px">View More</div>
<div class="t m" style="left:1378.0px;top:643.3px;font-size:18px;color:#364357;;letter-spacing:0.286px">Recent Activities</div>
<div class="t" style="right:52.7px;top:645.6px;font-size:14px;color:#1e3a8a;text-align:right;-webkit-text-stroke:.15px #1e3a8a;letter-spacing:0.057px;margin-right:-0.057px">Show More</div>
<div class="a" style="left:1397.5px;top:726px;width:1px;height:400px;background:#e2e8f0"></div>
<div class="a" style="left:1417px;top:726.3px;width:16px;height:1px;background:#e2e8f0"></div>
<div class="card" style="left:1433px;top:692.8px;width:255.5px;height:66px;border-radius:8px"></div>
<div class="av" style="left:1377.8px;top:706.6px;width:39.4px;height:39.4px"><svg width="100%" height="100%" viewBox="0 0 40 40" preserveAspectRatio="none" style="display:block;filter:blur(.45px)"><rect width="40" height="40" fill="#ecc9ae"/>
<path d="M14 0 L40 0 L40 24 Q38 14 30 8 Q24 5 18 7Z" fill="#8e5a3a"/>
<path d="M4 6 Q10 1 16 2 L19 8 Q18 11 14 12 L4 14Z" fill="#e0b49e"/>
<path d="M0 8 Q4 4 9 6 L9 14 L0 17Z" fill="#3b2217"/>
<path d="M20 8 Q30 9 35 16 L37 30 L30 38 L24 38 Q22 24 19 12Z" fill="#f1d5bd"/>
<path d="M0 14 Q10 11 20 13 L21 20 Q10 19 0 21Z" fill="#e2b797"/>
<path d="M0 21 Q8 19 14 21 L16 40 L0 40Z" fill="#d6a584"/>
<path d="M11 20 Q16 19 20 21 L23 40 L16 40Z" fill="#2e1a12"/>
<path d="M20 10 L30.5 35" stroke="#5e566c" stroke-width="1.1"/></svg></div>
<div class="a" style="left:1417px;top:825.3px;width:16px;height:1px;background:#e2e8f0"></div>
<div class="card" style="left:1433px;top:773.3px;width:255.5px;height:104.2px;border-radius:8px"></div>
<div class="av" style="left:1377.8px;top:805.6px;width:39.4px;height:39.4px"><svg width="100%" height="100%" viewBox="0 0 40 40" preserveAspectRatio="none" style="display:block;filter:blur(.45px)"><rect width="40" height="40" fill="#ecc9ae"/>
<path d="M14 0 L40 0 L40 24 Q38 14 30 8 Q24 5 18 7Z" fill="#8e5a3a"/>
<path d="M4 6 Q10 1 16 2 L19 8 Q18 11 14 12 L4 14Z" fill="#e0b49e"/>
<path d="M0 8 Q4 4 9 6 L9 14 L0 17Z" fill="#3b2217"/>
<path d="M20 8 Q30 9 35 16 L37 30 L30 38 L24 38 Q22 24 19 12Z" fill="#f1d5bd"/>
<path d="M0 14 Q10 11 20 13 L21 20 Q10 19 0 21Z" fill="#e2b797"/>
<path d="M0 21 Q8 19 14 21 L16 40 L0 40Z" fill="#d6a584"/>
<path d="M11 20 Q16 19 20 21 L23 40 L16 40Z" fill="#2e1a12"/>
<path d="M20 10 L30.5 35" stroke="#5e566c" stroke-width="1.1"/></svg></div>
<div class="a" style="left:1417px;top:969.2px;width:16px;height:1px;background:#e2e8f0"></div>
<div class="card" style="left:1433px;top:927px;width:255.5px;height:85px;border-radius:8px"></div>
<div class="av" style="left:1377.8px;top:949.5px;width:39.4px;height:39.4px"><svg width="100%" height="100%" viewBox="0 0 40 40" preserveAspectRatio="none" style="display:block;filter:blur(.45px)"><rect width="40" height="40" fill="#ecc9ae"/>
<path d="M14 0 L40 0 L40 24 Q38 14 30 8 Q24 5 18 7Z" fill="#8e5a3a"/>
<path d="M4 6 Q10 1 16 2 L19 8 Q18 11 14 12 L4 14Z" fill="#e0b49e"/>
<path d="M0 8 Q4 4 9 6 L9 14 L0 17Z" fill="#3b2217"/>
<path d="M20 8 Q30 9 35 16 L37 30 L30 38 L24 38 Q22 24 19 12Z" fill="#f1d5bd"/>
<path d="M0 14 Q10 11 20 13 L21 20 Q10 19 0 21Z" fill="#e2b797"/>
<path d="M0 21 Q8 19 14 21 L16 40 L0 40Z" fill="#d6a584"/>
<path d="M11 20 Q16 19 20 21 L23 40 L16 40Z" fill="#2e1a12"/>
<path d="M20 10 L30.5 35" stroke="#5e566c" stroke-width="1.1"/></svg></div>
<div class="a" style="left:1417px;top:1068px;width:16px;height:1px;background:#e2e8f0"></div>
<div class="card" style="left:1433px;top:1025.6px;width:255.5px;height:60px;border-radius:8px"></div>
<div class="av" style="left:1377.8px;top:1048.3px;width:39.4px;height:39.4px"><svg width="100%" height="100%" viewBox="0 0 40 40" preserveAspectRatio="none" style="display:block;filter:blur(.45px)"><rect width="40" height="40" fill="#ecc9ae"/>
<path d="M14 0 L40 0 L40 24 Q38 14 30 8 Q24 5 18 7Z" fill="#8e5a3a"/>
<path d="M4 6 Q10 1 16 2 L19 8 Q18 11 14 12 L4 14Z" fill="#e0b49e"/>
<path d="M0 8 Q4 4 9 6 L9 14 L0 17Z" fill="#3b2217"/>
<path d="M20 8 Q30 9 35 16 L37 30 L30 38 L24 38 Q22 24 19 12Z" fill="#f1d5bd"/>
<path d="M0 14 Q10 11 20 13 L21 20 Q10 19 0 21Z" fill="#e2b797"/>
<path d="M0 21 Q8 19 14 21 L16 40 L0 40Z" fill="#d6a584"/>
<path d="M11 20 Q16 19 20 21 L23 40 L16 40Z" fill="#2e1a12"/>
<path d="M20 10 L30.5 35" stroke="#5e566c" stroke-width="1.1"/></svg></div>
<div class="t m" style="left:1453.3px;top:706.5px;font-size:14px;color:#475569;;letter-spacing:0.128px">John Travolta</div>
<div class="t" style="right:73.6px;top:708.2px;font-size:12px;color:#7f8ba0;text-align:right;;letter-spacing:-0.051px;margin-right:0.051px">07:00 PM</div>
<div class="t" style="left:1453.3px;top:730.6px;font-size:14px;color:#64748b;;letter-spacing:0.126px">Has joined the team</div>
<div class="t m" style="left:1453.3px;top:786.5px;font-size:14px;color:#475569;;letter-spacing:0.031px">Al Pacino</div>
<div class="t" style="right:73.6px;top:788.2px;font-size:12px;color:#7f8ba0;text-align:right;;letter-spacing:-0.051px;margin-right:0.051px">07:00 PM</div>
<div class="t" style="left:1453.3px;top:810.4px;font-size:14px;color:#64748b;;letter-spacing:0.072px">Added 3 new photos</div>
<div class="a" style="left:1453.7px;top:835.9px;width:29.3px;height:29.2px;border-radius:5px;overflow:hidden"><svg width="100%" height="100%" viewBox="0 0 40 40" preserveAspectRatio="none" style="display:block;filter:blur(.45px)"><rect width="40" height="40" fill="#ecc9ae"/>
<path d="M14 0 L40 0 L40 24 Q38 14 30 8 Q24 5 18 7Z" fill="#8e5a3a"/>
<path d="M4 6 Q10 1 16 2 L19 8 Q18 11 14 12 L4 14Z" fill="#e0b49e"/>
<path d="M0 8 Q4 4 9 6 L9 14 L0 17Z" fill="#3b2217"/>
<path d="M20 8 Q30 9 35 16 L37 30 L30 38 L24 38 Q22 24 19 12Z" fill="#f1d5bd"/>
<path d="M0 14 Q10 11 20 13 L21 20 Q10 19 0 21Z" fill="#e2b797"/>
<path d="M0 21 Q8 19 14 21 L16 40 L0 40Z" fill="#d6a584"/>
<path d="M11 20 Q16 19 20 21 L23 40 L16 40Z" fill="#2e1a12"/>
<path d="M20 10 L30.5 35" stroke="#5e566c" stroke-width="1.1"/></svg></div>
<div class="a" style="left:1488.7px;top:835.9px;width:29.3px;height:29.2px;border-radius:5px;overflow:hidden"><svg width="100%" height="100%" viewBox="0 0 40 40" preserveAspectRatio="none" style="display:block;filter:blur(.45px)"><rect width="40" height="40" fill="#b9c3bd"/>
<path d="M0 0 L40 0 L40 4 L10 9 L9 40 L0 40Z" fill="#19b9e0"/>
<path d="M6 0 L40 0 L40 1 L8 3Z" fill="#c8d8d4"/>
<path d="M8 40 Q6 18 14 12 Q21 8 28 12 Q35 18 34 40Z" fill="#6b2a2c"/>
<ellipse cx="21" cy="24" rx="7" ry="9.5" fill="#d7a796"/>
<path d="M13 40 Q20 34 30 40Z" fill="#e8e6f0"/></svg></div>
<div class="a" style="left:1523.7px;top:835.9px;width:29.3px;height:29.2px;border-radius:5px;overflow:hidden"><svg width="100%" height="100%" viewBox="0 0 40 40" preserveAspectRatio="none" style="display:block;filter:blur(.45px)"><rect width="40" height="40" fill="#c7c27a"/>
<rect x="0" y="0" width="40" height="10" fill="#d9cf8c"/>
<rect x="0" y="18" width="40" height="6" fill="#e6e2b0"/>
<rect x="0" y="24" width="40" height="16" fill="#3f5f2c"/>
<path d="M14 41 Q15 26 26 24 Q37 26 40 41Z" fill="#3d64a8"/>
<path d="M24 41 L25 28 L29 28 L30 41Z" fill="#e8e8ee"/>
<ellipse cx="26" cy="17" rx="5.3" ry="7" fill="#c89c80"/>
<path d="M20.5 15 Q20 6 26 6.5 Q32 7 31.5 15 Q29 11 26 11.5 Q23 11 20.5 15Z" fill="#2a2020"/></svg></div>
<div class="t" style="left:1233.8px;width:600px;top:895.8px;font-size:12px;color:#64748b;text-align:center;;letter-spacing:-0.046px;text-indent:-0.046px">12 November</div>
<div class="t m" style="left:1453.3px;top:940.3px;font-size:14px;color:#475569;;letter-spacing:0.019px">Denzel Washington</div>
<div class="t" style="right:73.6px;top:942.0px;font-size:12px;color:#7f8ba0;text-align:right;;letter-spacing:-0.051px;margin-right:0.051px">07:00 PM</div>
<div class="t" style="left:1453.3px;top:963.9px;font-size:14px;color:#64748b;;letter-spacing:-0.182px">Has changed <span style="color:#1e3a8a">Samsung Q90 QLED</span></div>
<div class="t" style="left:1453.3px;top:983.7px;font-size:14px;color:#64748b;;letter-spacing:0.131px"><span style="color:#1e3a8a">TV</span> price and description</div>
<div class="t m" style="left:1453.3px;top:1039.6px;font-size:14px;color:#475569;;letter-spacing:0.219px">Angelina Jolie</div>
<div class="t" style="right:73.6px;top:1041.3px;font-size:12px;color:#7f8ba0;text-align:right;;letter-spacing:-0.051px;margin-right:0.051px">07:00 PM</div>
</div></body></html>
